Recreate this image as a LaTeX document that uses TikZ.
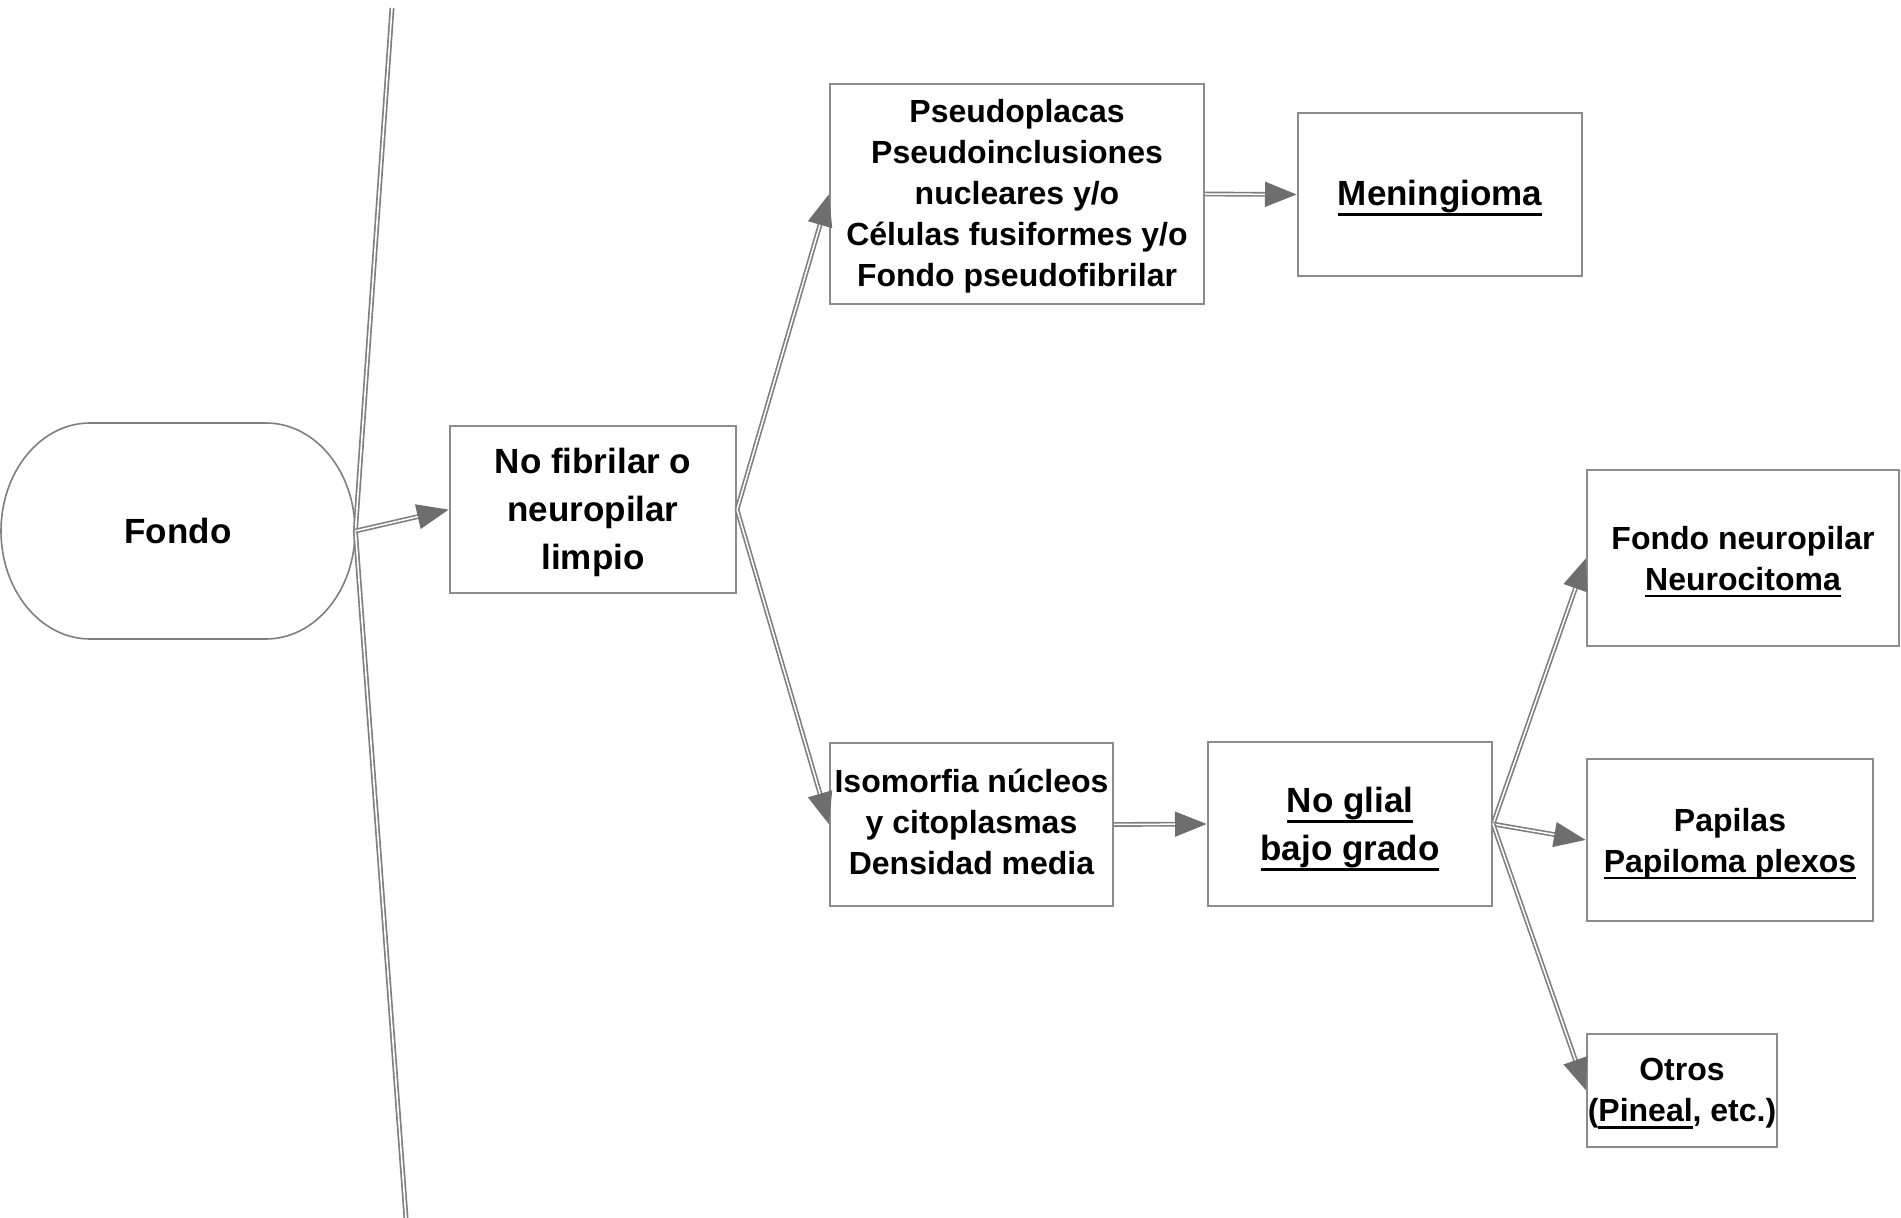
\documentclass[tikz,border=0pt]{standalone}
\usepackage{fontspec}
\setmainfont{Liberation Sans}
\usetikzlibrary{arrows.meta}
\definecolor{lgray}{HTML}{7F7F7F}
\definecolor{tgray}{HTML}{6E6E6E}
\definecolor{bgray}{HTML}{8C8C8C}
\newcommand\ulb[1]{\setbox0\hbox{#1}\rlap{\rule[-5pt]{\wd0}{1.5pt}}\box0}
\newcommand\uls[1]{\setbox0\hbox{#1}\rlap{\rule[-3.6pt]{\wd0}{1.4pt}}\box0}
\newcommand\tstrut[1]{\rule{0pt}{#1}}
\begin{document}
\begin{tikzpicture}[x=0.5pt,y=-0.5pt,
  box/.style={draw=bgray, line width=1pt, fill=white, inner sep=0pt, align=center,
    font=\bfseries\fontsize{16}{20.5}\selectfont},
  bigbox/.style={box, font=\bfseries\fontsize{17.5}{24}\selectfont},
  conn/.style={draw=lgray, line width=2.4pt,
    -{Triangle[length=16pt,width=12pt,fill=tgray,color=tgray]},
    postaction={draw=white, line width=0.75pt, -, shorten >=16pt}},
  rail/.style={draw=lgray, line width=2.5pt, line join=round,
    postaction={draw=white, line width=0.8pt, line join=round}}]
\useasboundingbox (0,0) rectangle (1901,1218);

% Fondo terminal
\draw[draw=lgray, line width=0.8pt, fill=white]
  (90,423) -- (266,423) arc[start angle=-90, end angle=90, x radius=89, y radius=108]
  -- (90,639) arc[start angle=90, end angle=270, x radius=89, y radius=108] -- cycle;
\node[inner sep=0pt, minimum width=177pt, minimum height=108pt,
  font=\bfseries\fontsize{17.5}{24}\selectfont] (fondo) at (178,531) {Fondo};

% boxes
\node[bigbox, minimum width=143pt, minimum height=83.5pt] (nofib) at (593,509.5)
  {\tstrut{15.2pt}No fibrilar o\\neuropilar\\limpio};
\node[box, minimum width=187pt, minimum height=110pt] (pseudo) at (1017,194)
  {\tstrut{14.1pt}Pseudoplacas\\Pseudoinclusiones\\nucleares y/o\\Células fusiformes y/o\\Fondo pseudofibrilar};
\node[bigbox, minimum width=142pt, minimum height=81.5pt] (menin) at (1440,194.5)
  {\tstrut{16.4pt}\ulb{Meningioma}};
\node[box, minimum width=141.5pt, minimum height=81.5pt] (isomorf) at (971.5,824.5)
  {Isomorfia núcleos\\y citoplasmas\\Densidad media\rule[-2.4pt]{0pt}{0pt}};
\node[bigbox, minimum width=142pt, minimum height=82pt] (noglial) at (1350,824)
  {\tstrut{17.6pt}\ulb{No glial}\\\ulb{bajo grado}};
\node[box, minimum width=156pt, minimum height=88pt] (fneuro) at (1743,558)
  {\tstrut{15.3pt}Fondo neuropilar\\\uls{Neurocitoma}};
\node[box, minimum width=143pt, minimum height=81pt] (papilas) at (1730,840)
  {\tstrut{15.3pt}Papilas\\\uls{Papiloma plexos}};
\node[box, minimum width=95pt, minimum height=56.5pt] (otros) at (1682,1090.5)
  {\tstrut{14.2pt}Otros\\(\uls{Pineal}, etc.)};

% vertical rail
\coordinate (rtop) at (392,8);
\coordinate (rbot) at (406,1218);
\draw[rail] (rtop) -- (fondo.east) -- (rbot);

% connectors
\draw[conn] (fondo.east) -- (nofib.west);
\draw[conn] (nofib.east) -- (pseudo.west);
\draw[conn] (nofib.east) -- (isomorf.west);
\draw[conn] (pseudo.east) -- (menin.west);
\draw[conn] (isomorf.east) -- (noglial.west);
\draw[conn] (noglial.east) -- (fneuro.west);
\draw[conn] (noglial.east) -- (papilas.west);
\draw[conn] (noglial.east) -- (otros.west);
\end{tikzpicture}
\end{document}
